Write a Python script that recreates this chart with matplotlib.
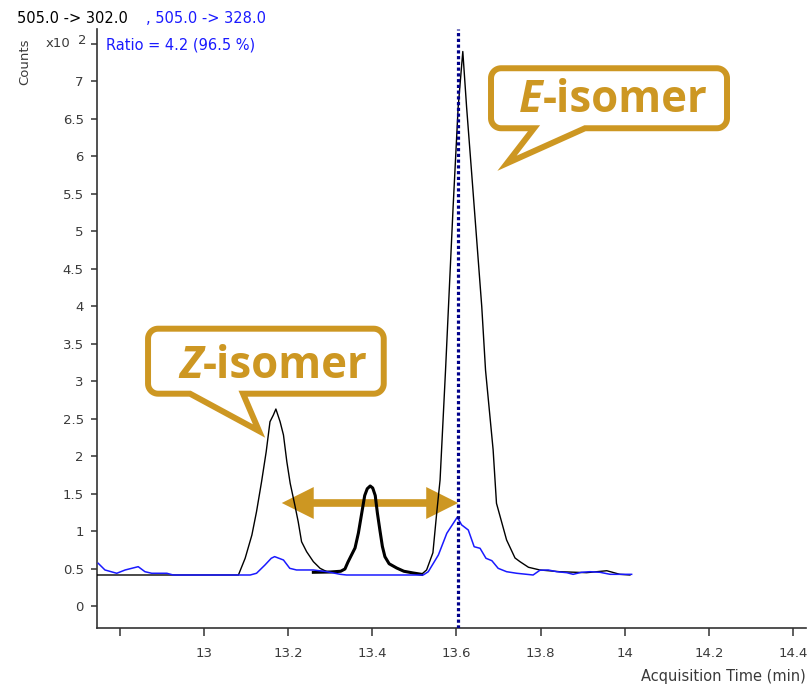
import numpy as np
import matplotlib
matplotlib.use("Agg")
import matplotlib.pyplot as plt
import matplotlib.transforms as mtransforms
from matplotlib.path import Path
from matplotlib.patches import PathPatch, FancyArrowPatch, ArrowStyle

# ---------------------------------------------------------------------------
# Chromatogram data (acquisition time in min, intensity in x10^2 counts)
# ---------------------------------------------------------------------------
# intermediate peak, highlighted with a heavier line
mid_time = [13.260, 13.300, 13.325, 13.335, 13.342, 13.350, 13.359, 13.367,
            13.375, 13.382, 13.388, 13.395, 13.401, 13.407, 13.412, 13.418,
            13.424, 13.430, 13.440, 13.458, 13.475, 13.497, 13.517]
mid_counts = [0.456, 0.460, 0.470, 0.500, 0.590, 0.680, 0.780, 0.980,
              1.247, 1.480, 1.570, 1.607, 1.580, 1.480, 1.250, 1.020,
              0.800, 0.664, 0.570, 0.513, 0.470, 0.447, 0.429]

# quantifier transition 505.0 -> 302.0 (contains the intermediate peak)
quant_time = ([12.746, 13.082, 13.098, 13.114, 13.125, 13.137, 13.148, 13.157,
               13.165, 13.171, 13.181, 13.189, 13.197, 13.205, 13.216, 13.224,
               13.232, 13.244, 13.260, 13.276, 13.292]
              + mid_time[1:]
              + [13.529, 13.544, 13.553, 13.561, 13.574, 13.581, 13.592,
                 13.604, 13.615, 13.624, 13.636, 13.648, 13.660, 13.669, 13.687,
                 13.695, 13.719, 13.739, 13.751, 13.771, 13.798, 13.845, 13.909,
                 13.957, 13.988, 14.012])
quant_counts = ([0.420, 0.420, 0.643, 0.953, 1.264, 1.664, 2.064, 2.464,
                 2.553, 2.633, 2.464, 2.287, 1.931, 1.642, 1.353, 1.131,
                 0.864, 0.731, 0.598, 0.509, 0.464]
                + mid_counts[1:]
                + [0.487, 0.717, 1.247, 1.687, 3.153, 4.000, 5.330,
                   6.660, 7.400, 6.660, 5.780, 4.890, 4.000, 3.150, 2.090,
                   1.376, 0.887, 0.647, 0.597, 0.523, 0.487, 0.464, 0.451,
                   0.477, 0.429, 0.420])

# qualifier transition 505.0 -> 328.0
qual_time = [12.749, 12.765, 12.793, 12.813, 12.844, 12.860, 12.876, 12.912,
             12.927, 13.110, 13.125, 13.145, 13.160, 13.168, 13.189, 13.204,
             13.220, 13.260, 13.292, 13.324, 13.339, 13.521, 13.533, 13.557,
             13.577, 13.602, 13.612, 13.628, 13.642, 13.656, 13.670, 13.684,
             13.699, 13.719, 13.743, 13.782, 13.798, 13.818, 13.838, 13.862,
             13.877, 13.897, 13.917, 13.941, 13.965, 14.016]
qual_counts = [0.576, 0.487, 0.443, 0.487, 0.531, 0.464, 0.443, 0.443,
               0.420, 0.420, 0.443, 0.553, 0.643, 0.665, 0.620, 0.509,
               0.487, 0.487, 0.464, 0.429, 0.420, 0.420, 0.464, 0.687,
               0.976, 1.192, 1.089, 1.020, 0.797, 0.776, 0.643, 0.611,
               0.509, 0.464, 0.443, 0.420, 0.483, 0.487, 0.464, 0.451,
               0.429, 0.456, 0.464, 0.456, 0.429, 0.429]

rt_marker = 13.604

# separation arrow between the isomer peaks
sep_start = 13.185
sep_end = 13.604
sep_level = 1.38

x_ticks = [12.8, 13.0, 13.2, 13.4, 13.6, 13.8, 14.0, 14.2, 14.4]
x_tick_labels = ['', '13', '13.2', '13.4', '13.6', '13.8', '14', '14.2', '14.4']
y_ticks = [0, 0.5, 1, 1.5, 2, 2.5, 3, 3.5, 4, 4.5, 5, 5.5, 6, 6.5, 7, 7.5]
y_tick_labels = ['0', '0.5', '1', '1.5', '2', '2.5', '3', '3.5', '4', '4.5',
                 '5', '5.5', '6', '6.5', '7', '']

title_quant = '505.0 -> 302.0'
title_qual = ', 505.0 -> 328.0'
ratio_text = 'Ratio = 4.2 (96.5 %)'
x_label = 'Acquisition Time (min)'
y_label = 'Counts'
z_label = ('Z', '-isomer')
e_label = ('E', '-isomer')

# ---------------------------------------------------------------------------
W, H = 811, 685
DPI = 100
GOLD = '#CD9722'
BLUE = '#1a1aff'
AXIS = '#333333'
TXT = '#3a3a3a'
FONT = 'DejaVu Sans'

fig = plt.figure(figsize=(W / DPI, H / DPI), dpi=DPI)
ax = fig.add_axes([97 / W, 57 / H, (806 - 97) / W, (628 - 29) / H])


def fpos(x, y):
    """pixel position (origin top-left) -> figure fraction"""
    return x / W, 1 - y / H


# traces
ax.plot(quant_time, quant_counts, color='black', lw=1.0, zorder=3)
ax.plot(mid_time, mid_counts, color='black', lw=2.2, zorder=3,
        solid_joinstyle='round')
ax.plot(qual_time, qual_counts, color=BLUE, lw=1.1, zorder=4)
ax.axvline(rt_marker, color='#00008b', lw=2.3, ls=(0, (1.0, 0.8)), zorder=5)

# double-headed separation arrow
mid = 0.5 * (sep_start + sep_end)
style = ArrowStyle('simple', head_length=2.3, head_width=2.3, tail_width=0.55)
for end in (sep_start, sep_end):
    ax.add_patch(FancyArrowPatch((mid, sep_level), (end, sep_level),
                                 arrowstyle=style, mutation_scale=10,
                                 shrinkA=0, shrinkB=0, color=GOLD, lw=0,
                                 zorder=2))


def speech_bubble(tip, box, tail, radius=10):
    """Rounded callout whose tail ends at `tip` (data coords).
    box/tail are pixel offsets from the tip with y pointing down."""
    L, R, T, B = box
    tl, tr = tail
    r = radius

    def arc(cx, cy, a0, a1):
        a = np.radians(np.linspace(a0, a1, 12))
        return list(zip(cx + r * np.cos(a), cy + r * np.sin(a)))

    pts = [(L + r, T), (R - r, T)]
    pts += arc(R - r, T + r, 270, 360)
    pts += [(R, B - r)]
    pts += arc(R - r, B - r, 0, 90)
    pts += [(tr, B), (0, 0), (tl, B), (L + r, B)]
    pts += arc(L + r, B - r, 90, 180)
    pts += [(L, T + r)]
    pts += arc(L + r, T + r, 180, 270)
    pts.append(pts[0])
    codes = [Path.MOVETO] + [Path.LINETO] * (len(pts) - 2) + [Path.CLOSEPOLY]
    trans = (mtransforms.Affine2D().scale(1, -1)
             + mtransforms.ScaledTranslation(tip[0], tip[1], ax.transData))
    ax.add_patch(PathPatch(Path(pts, codes), transform=trans, facecolor='white',
                           edgecolor=GOLD, lw=4.3, joinstyle='miter',
                           zorder=6, clip_on=False))
    return trans


def bubble_label(trans, split_x, base_y, parts):
    kw = dict(transform=trans, va='baseline', fontsize=31.5, color=GOLD,
              family='Open Sans', fontweight='bold', zorder=7)
    ax.text(split_x, base_y, parts[0], ha='right', fontstyle='italic', **kw)
    ax.text(split_x, base_y, parts[1], ha='left', **kw)


z_tr = speech_bubble((13.131, 2.34), (-111, 124.7, -102.3, -37.3), (-69, -16))
bubble_label(z_tr, -56, -52.7, z_label)
e_tr = speech_bubble((13.720, 5.91), (-16, 220, -95, -35), (27, 78))
bubble_label(e_tr, 36, -51.3, e_label)

# axes styling
ax.set_xlim(12.7461, 14.4302)
ax.set_ylim(-0.2867, 7.70)
for side in ('top', 'right'):
    ax.spines[side].set_visible(False)
for side in ('left', 'bottom'):
    ax.spines[side].set_color(AXIS)
    ax.spines[side].set_linewidth(1.2)
ax.set_xticks(x_ticks)
ax.set_xticklabels(x_tick_labels)
ax.set_yticks(y_ticks)
ax.set_yticklabels(y_tick_labels)
ax.tick_params(axis='x', direction='out', length=6, width=1.1, color=AXIS,
               pad=8, labelsize=9.5, labelcolor=TXT)
ax.tick_params(axis='y', direction='out', length=4.5, width=1.1, color=AXIS,
               pad=5, labelsize=9.5, labelcolor=TXT)
for lab in ax.get_xticklabels() + ax.get_yticklabels():
    lab.set_family(FONT)

# exponent marker on the top tick
ax.annotate('x10', xy=(0, 7.5), xycoords=('axes fraction', 'data'),
            xytext=(-19, 0), textcoords='offset points', ha='right',
            va='center', fontsize=9.5, color=TXT, family=FONT)
ax.annotate('2', xy=(0, 7.5), xycoords=('axes fraction', 'data'),
            xytext=(-13.5, 2.2), textcoords='offset points', ha='left',
            va='center', fontsize=9.5, color=TXT, family=FONT)

fig.text(*fpos(806, 677), x_label, ha='right', va='center', fontsize=10.5,
         color=TXT, family=FONT)
fig.text(*fpos(25, 62), y_label, rotation=90, ha='center', va='center',
         fontsize=9.5, color=TXT, family=FONT)
fig.text(*fpos(17, 22.7), title_quant, ha='left', va='baseline', fontsize=10.5,
         color='black', family=FONT)
fig.text(*fpos(146, 22.7), title_qual, ha='left', va='baseline', fontsize=10.5,
         color=BLUE, family=FONT)
fig.text(*fpos(106, 50), ratio_text, ha='left', va='baseline', fontsize=10.5,
         color=BLUE, family=FONT)

fig.savefig('out.png', dpi=DPI, facecolor='white')
